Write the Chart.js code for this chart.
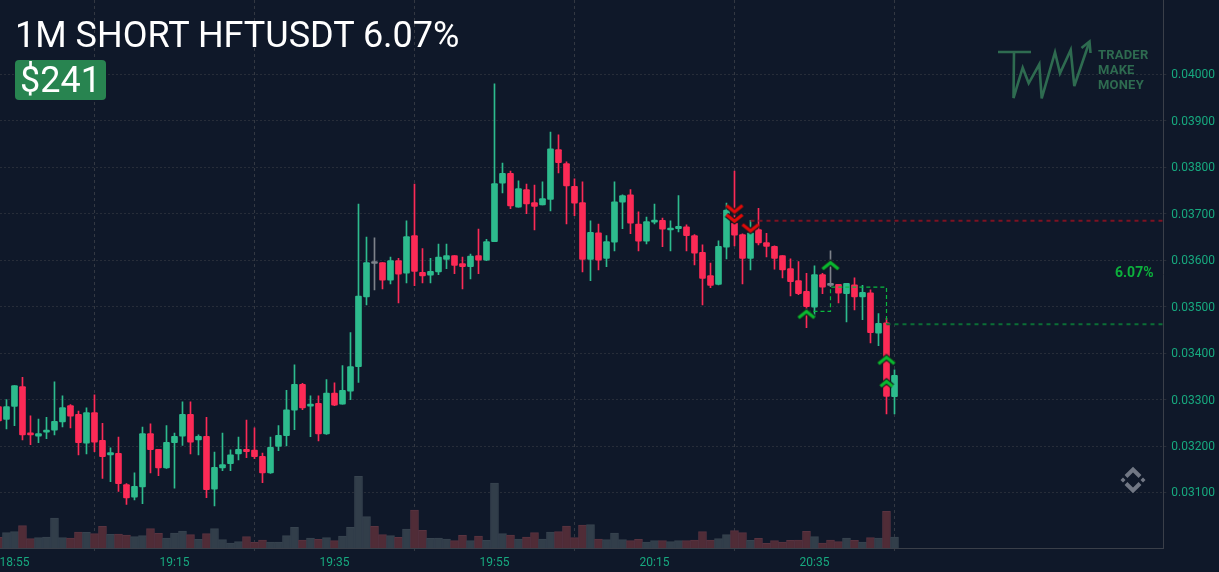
<!DOCTYPE html>
<html lang="en">
<head>
<meta charset="UTF-8">
<title>1M SHORT HFTUSDT</title>
<script src="https://cdn.jsdelivr.net/npm/chart.js@4/dist/chart.umd.min.js"></script>
<style>
    html, body { margin: 0; padding: 0; background: #0f1829; overflow: hidden; }
    #wrap { position: relative; width: 1219px; height: 572px; font-family: Roboto, sans-serif; }
    canvas { position: absolute; left: 0; top: 0; }
    .title { position: absolute; left: 15px; top: 14px; color: #fff; font-size: 36px; line-height: 42px; white-space: nowrap; }
    .badge { position: absolute; left: 15px; top: 60px; width: 91px; height: 40px; background: #288450; border-radius: 4px;
             color: #fff; font-size: 36px; line-height: 41px; text-align: center; }
    .pct { position: absolute; left: 1115px; top: 264px; color: #0cb03c; font-size: 14px; font-weight: 700; line-height: 16px; }
    .brand { position: absolute; left: 1098px; top: 47px; color: #2e6b50; font-size: 13px; font-weight: 700; line-height: 15px; letter-spacing: .2px; }
    svg { position: absolute; left: 0; top: 0; pointer-events: none; }
</style>
</head>
<body>
<div id="wrap">
    <canvas id="chart" width="1219" height="572"></canvas>
    <svg width="1219" height="572" fill="none">
        <g stroke="#2e6b50" stroke-width="2.6">
            <path d="M998 52H1031M1014 52L1013.5 98L1022.7 67.7L1028.7 83.3L1039.3 64.3L1041.7 98.3L1055 52.3L1060 73.3L1070.7 50L1074.3 86L1089 43"/>
            <path d="M1081.5 48L1089.5 41.5L1090.5 53"/>
        </g>
        <g stroke="#717784" stroke-width="4">
            <path d="M1126 476.5L1133 469.5L1140 476.5M1126 483.5L1133 490.5L1140 483.5"/>
        </g>
        <g fill="#717784">
            <path d="M1120.5 480l2.5-2.5l2.5 2.5l-2.5 2.5zM1140.5 480l2.5-2.5l2.5 2.5l-2.5 2.5z" />
        </g>
    </svg>
    <div class="title">1M SHORT HFTUSDT 6.07%</div>
    <div class="badge">$241</div>
    <div class="pct">6.07%</div>
    <div class="brand">TRADER<br>MAKE<br>MONEY</div>
</div>
<script>
    // candles, one per minute, first one is 18:53
    const opens = [
        0.03285, 0.03257, 0.03285, 0.03328, 0.03227, 0.03221, 0.03230, 0.03234, 0.03252, 0.03287,
        0.03268, 0.03206, 0.03272, 0.03212, 0.03181, 0.03184, 0.03117, 0.03090, 0.03112, 0.03227,
        0.03193, 0.03153, 0.03207, 0.03221, 0.03268, 0.03213, 0.03221, 0.03107, 0.03153, 0.03162,
        0.03183, 0.03193, 0.03191, 0.03178, 0.03142, 0.03199, 0.03222, 0.03277, 0.03333, 0.03286,
        0.03292, 0.03226, 0.03314, 0.03290, 0.03318, 0.03371, 0.03521, 0.03593, 0.03595, 0.03557,
        0.03599, 0.03572, 0.03653, 0.03574, 0.03568, 0.03575, 0.03602, 0.03610, 0.03593, 0.03586,
        0.03610, 0.03600, 0.03640, 0.03766, 0.03787, 0.03714, 0.03752, 0.03724, 0.03719, 0.03731,
        0.03838, 0.03808, 0.03759, 0.03724, 0.03602, 0.03659, 0.03604, 0.03639, 0.03725, 0.03741,
        0.03678, 0.03641, 0.03682, 0.03686, 0.03665, 0.03668, 0.03672, 0.03653, 0.03617, 0.03567,
        0.03548, 0.03628, 0.03680, 0.03655, 0.03604, 0.03666, 0.03638, 0.03630, 0.03610, 0.03582,
        0.03556, 0.03533, 0.03499, 0.03569, 0.03546, 0.03548, 0.03528, 0.03547, 0.03521, 0.03530,
        0.03443, 0.03465, 0.03306
    ];
    const highs = [
        0.03296, 0.03300, 0.03330, 0.03348, 0.03265, 0.03258, 0.03262, 0.03338, 0.03308, 0.03289,
        0.03275, 0.03282, 0.03310, 0.03249, 0.03196, 0.03219, 0.03119, 0.03142, 0.03241, 0.03248,
        0.03193, 0.03244, 0.03228, 0.03295, 0.03295, 0.03224, 0.03262, 0.03187, 0.03228, 0.03192,
        0.03219, 0.03256, 0.03239, 0.03185, 0.03219, 0.03244, 0.03320, 0.03375, 0.03335, 0.03308,
        0.03308, 0.03343, 0.03336, 0.03373, 0.03444, 0.03721, 0.03650, 0.03648, 0.03595, 0.03607,
        0.03604, 0.03685, 0.03764, 0.03625, 0.03604, 0.03635, 0.03635, 0.03610, 0.03607, 0.03613,
        0.03667, 0.03645, 0.03980, 0.03809, 0.03792, 0.03771, 0.03764, 0.03762, 0.03769, 0.03876,
        0.03870, 0.03812, 0.03775, 0.03769, 0.03685, 0.03678, 0.03653, 0.03769, 0.03741, 0.03752,
        0.03704, 0.03693, 0.03721, 0.03691, 0.03685, 0.03739, 0.03676, 0.03655, 0.03633, 0.03594,
        0.03642, 0.03723, 0.03792, 0.03657, 0.03686, 0.03712, 0.03658, 0.03631, 0.03610, 0.03603,
        0.03597, 0.03572, 0.03588, 0.03572, 0.03620, 0.03548, 0.03550, 0.03562, 0.03546, 0.03536,
        0.03485, 0.03475, 0.03364
    ];
    const lows = [
        0.03249, 0.03237, 0.03244, 0.03213, 0.03203, 0.03207, 0.03216, 0.03224, 0.03241, 0.03239,
        0.03181, 0.03183, 0.03188, 0.03130, 0.03123, 0.03102, 0.03074, 0.03084, 0.03076, 0.03142,
        0.03136, 0.03152, 0.03109, 0.03201, 0.03183, 0.03181, 0.03089, 0.03071, 0.03147, 0.03147,
        0.03170, 0.03175, 0.03173, 0.03121, 0.03141, 0.03190, 0.03200, 0.03235, 0.03278, 0.03220,
        0.03211, 0.03225, 0.03287, 0.03290, 0.03300, 0.03337, 0.03504, 0.03536, 0.03538, 0.03549,
        0.03508, 0.03551, 0.03545, 0.03551, 0.03551, 0.03569, 0.03582, 0.03571, 0.03538, 0.03560,
        0.03571, 0.03599, 0.03640, 0.03745, 0.03711, 0.03714, 0.03700, 0.03665, 0.03719, 0.03706,
        0.03788, 0.03678, 0.03696, 0.03575, 0.03556, 0.03579, 0.03586, 0.03620, 0.03668, 0.03657,
        0.03620, 0.03635, 0.03678, 0.03629, 0.03620, 0.03661, 0.03620, 0.03590, 0.03504, 0.03541,
        0.03547, 0.03603, 0.03631, 0.03549, 0.03579, 0.03633, 0.03607, 0.03581, 0.03562, 0.03523,
        0.03526, 0.03455, 0.03479, 0.03528, 0.03543, 0.03508, 0.03467, 0.03493, 0.03472, 0.03422,
        0.03416, 0.03269, 0.03269
    ];
    const closes = [
        0.03254, 0.03285, 0.03330, 0.03224, 0.03224, 0.03227, 0.03234, 0.03253, 0.03283, 0.03264,
        0.03207, 0.03272, 0.03208, 0.03177, 0.03186, 0.03119, 0.03088, 0.03113, 0.03227, 0.03192,
        0.03153, 0.03208, 0.03221, 0.03268, 0.03208, 0.03221, 0.03106, 0.03154, 0.03160, 0.03181,
        0.03193, 0.03188, 0.03177, 0.03142, 0.03197, 0.03223, 0.03278, 0.03333, 0.03282, 0.03290,
        0.03226, 0.03314, 0.03288, 0.03320, 0.03371, 0.03523, 0.03595, 0.03593, 0.03557, 0.03599,
        0.03570, 0.03651, 0.03576, 0.03566, 0.03576, 0.03607, 0.03610, 0.03589, 0.03586, 0.03609,
        0.03600, 0.03640, 0.03765, 0.03787, 0.03717, 0.03754, 0.03721, 0.03716, 0.03733, 0.03840,
        0.03810, 0.03760, 0.03723, 0.03602, 0.03660, 0.03600, 0.03640, 0.03726, 0.03739, 0.03680,
        0.03641, 0.03683, 0.03686, 0.03667, 0.03668, 0.03673, 0.03653, 0.03615, 0.03561, 0.03546,
        0.03630, 0.03708, 0.03654, 0.03604, 0.03659, 0.03637, 0.03630, 0.03604, 0.03579, 0.03554,
        0.03528, 0.03500, 0.03569, 0.03542, 0.03546, 0.03529, 0.03550, 0.03521, 0.03531, 0.03444,
        0.03464, 0.03307, 0.03352
    ];
    const volumes = [
        10.7, 15.3, 16.3, 22.3, 9.3, 10.3, 11, 30, 10.3, 10,
        16, 15.7, 14.3, 21.7, 13.7, 14, 13, 11.3, 12.3, 19.3,
        14.7, 10, 15, 17, 13.3, 8.7, 14.3, 19.3, 8.3, 5,
        6.3, 11.3, 5.7, 8, 6, 6, 12.3, 20.7, 8, 10,
        8.7, 10.3, 7.3, 12, 20.7, 71.7, 31.3, 21.7, 13.3, 12.3,
        10.7, 19, 38, 17.7, 9.7, 10, 9, 7.3, 12.7, 7.3,
        12, 7.7, 65, 14.3, 13, 9, 11, 15.3, 9, 16,
        16.3, 22, 10.3, 23, 23.3, 9, 8.3, 15, 8.3, 7.3,
        8.7, 6, 7.3, 7.3, 6.3, 7.3, 7.3, 8, 16.3, 8,
        9.3, 13.3, 17.3, 15.3, 7.7, 9.7, 4.7, 7.3, 6, 7.7,
        8, 16.7, 11.3, 5, 8, 6.3, 10, 7.7, 6, 10.3,
        10, 36.7, 11
    ];

    const priceTicks = [0.031, 0.032, 0.033, 0.034, 0.035, 0.036, 0.037, 0.038, 0.039, 0.040];
    const timeLabels = ['18:55', '19:15', '19:35', '19:55', '20:15', '20:35'];
    const timeTicks = [2, 22, 42, 62, 82, 102];

    // trade markers: candle index and price
    const entryIdx = [92, 92, 94];
    const entryPrice = [0.03711, 0.03691, 0.03670];
    const exitIdx = [101, 104, 111, 111];
    const exitPrice = [0.03483, 0.03588, 0.03384, 0.03334];
    const entryAvg = 0.03685;
    const exitAvg = 0.03462;
    const stepIdx = [101, 104, 104, 111, 111];
    const stepPrice = [0.03490, 0.03490, 0.03542, 0.03542, 0.03462];

    const xMin = 0.19, xMax = 145.6;
    const yMin = 0.029804, yMax = 0.041603;
    const volumeMax = 548;

    const GREEN = '#2dbb8d', RED = '#fc2a56', DOJI = '#7d828a';
    const candleColor = (i, up, down) => closes[i] > opens[i] ? up : closes[i] < opens[i] ? down : DOJI;

    // chevron used for the trade markers, drawn once on a small canvas
    function chevron(dir, half, color) {
        const c = document.createElement('canvas');
        c.width = c.height = half * 2 + 10;
        const g = c.getContext('2d');
        const mid = c.width / 2, h = half * 0.8;
        g.lineJoin = 'miter';
        g.beginPath();
        g.moveTo(mid - half, mid + dir * h / 2);
        g.lineTo(mid, mid - dir * h / 2);
        g.lineTo(mid + half, mid + dir * h / 2);
        g.strokeStyle = '#161a1f';
        g.lineWidth = 5.5;
        g.stroke();
        g.strokeStyle = color;
        g.lineWidth = 3.2;
        g.stroke();
        return c;
    }
    const downMark = chevron(-1, 8, '#e00a0a');
    const upBig = chevron(1, 8, '#09b82f');
    const upSmall = chevron(1, 6, '#09b82f');

    const idx = opens.map((_, i) => i);

    const chart = new Chart(document.getElementById('chart'), {
        data: {
            datasets: [
                {
                    type: 'bar', label: 'Volume', yAxisID: 'v', order: 5, grouped: false,
                    data: idx.map(i => ({ x: i, y: volumes[i] })),
                    barThickness: 8,
                    backgroundColor: idx.map(i => closes[i] > opens[i] ? '#323e4a' : '#502c37'),
                    borderColor: idx.map(i => closes[i] > opens[i] ? '#37434f' : '#593340'),
                    borderWidth: 1
                },
                {
                    type: 'bar', label: 'Wick', yAxisID: 'y', order: 4, grouped: false,
                    data: idx.map(i => ({ x: i, y: [lows[i], highs[i]] })),
                    barThickness: 1,
                    backgroundColor: idx.map(i => candleColor(i, GREEN, RED))
                },
                {
                    type: 'bar', label: 'Body', yAxisID: 'y', order: 3, grouped: false,
                    data: idx.map(i => ({ x: i, y: [opens[i], closes[i]] })),
                    barThickness: 6,
                    minBarLength: 2,
                    backgroundColor: idx.map(i => candleColor(i, GREEN, RED)),
                    borderRadius: 1,
                    borderSkipped: false
                },
                {
                    type: 'scatter', label: 'Entry avg', yAxisID: 'y', order: 2, showLine: true, pointRadius: 0,
                    data: [{ x: 94, y: entryAvg }, { x: xMax, y: entryAvg }],
                    borderColor: '#7e1222', borderWidth: 2, borderDash: [4, 4]
                },
                {
                    type: 'scatter', label: 'Exit avg', yAxisID: 'y', order: 2, showLine: true, pointRadius: 0,
                    data: [{ x: 111, y: exitAvg }, { x: xMax, y: exitAvg }],
                    borderColor: '#0b6e36', borderWidth: 2, borderDash: [4, 4]
                },
                {
                    type: 'scatter', label: 'Exit steps', yAxisID: 'y', order: 2, showLine: true, pointRadius: 0,
                    data: stepIdx.map((x, i) => ({ x: x, y: stepPrice[i] })),
                    borderColor: '#0bb83f', borderWidth: 1.2, borderDash: [4, 3]
                },
                {
                    type: 'scatter', label: 'Entries', yAxisID: 'y', order: 1,
                    data: entryIdx.map((x, i) => ({ x: x, y: entryPrice[i] })),
                    pointStyle: downMark
                },
                {
                    type: 'scatter', label: 'Exits', yAxisID: 'y', order: 1,
                    data: exitIdx.map((x, i) => ({ x: x, y: exitPrice[i] })),
                    pointStyle: [upBig, upBig, upBig, upSmall]
                }
            ]
        },
        options: {
            responsive: false,
            animation: false,
            devicePixelRatio: 1,
            layout: { padding: 0, autoPadding: false },
            plugins: { legend: { display: false }, tooltip: { enabled: false } },
            scales: {
                x: {
                    type: 'linear', min: xMin, max: xMax, offset: false,
                    afterFit: s => { s.height = 24; s.paddingLeft = 0; s.paddingRight = 0; },
                    afterBuildTicks: s => { s.ticks = timeTicks.map(v => ({ value: v })); },
                    grid: { color: '#333842', tickColor: '#333842', tickLength: 3 },
                    border: { color: '#3a3f49', dash: [3, 3] },
                    ticks: {
                        autoSkip: false, maxRotation: 0, padding: 5,
                        color: '#17a97f', font: { family: 'Roboto', size: 12 },
                        callback: v => timeLabels[timeTicks.indexOf(v)]
                    }
                },
                y: {
                    position: 'right', min: yMin, max: yMax,
                    afterFit: s => { s.width = 55.7; s.paddingTop = 0; s.paddingBottom = 0; },
                    afterBuildTicks: s => { s.ticks = priceTicks.map(v => ({ value: v })); },
                    grid: { color: '#272d39', tickColor: '#272d39', tickLength: 3 },
                    border: { color: '#3a3f49', dash: [2, 2] },
                    ticks: {
                        padding: 5, labelOffset: 1,
                        color: '#17a97f', font: { family: 'Roboto', size: 12 },
                        callback: v => v.toFixed(5)
                    }
                },
                v: { display: false, min: 0, max: volumeMax }
            }
        }
    });
</script>
</body>
</html>
